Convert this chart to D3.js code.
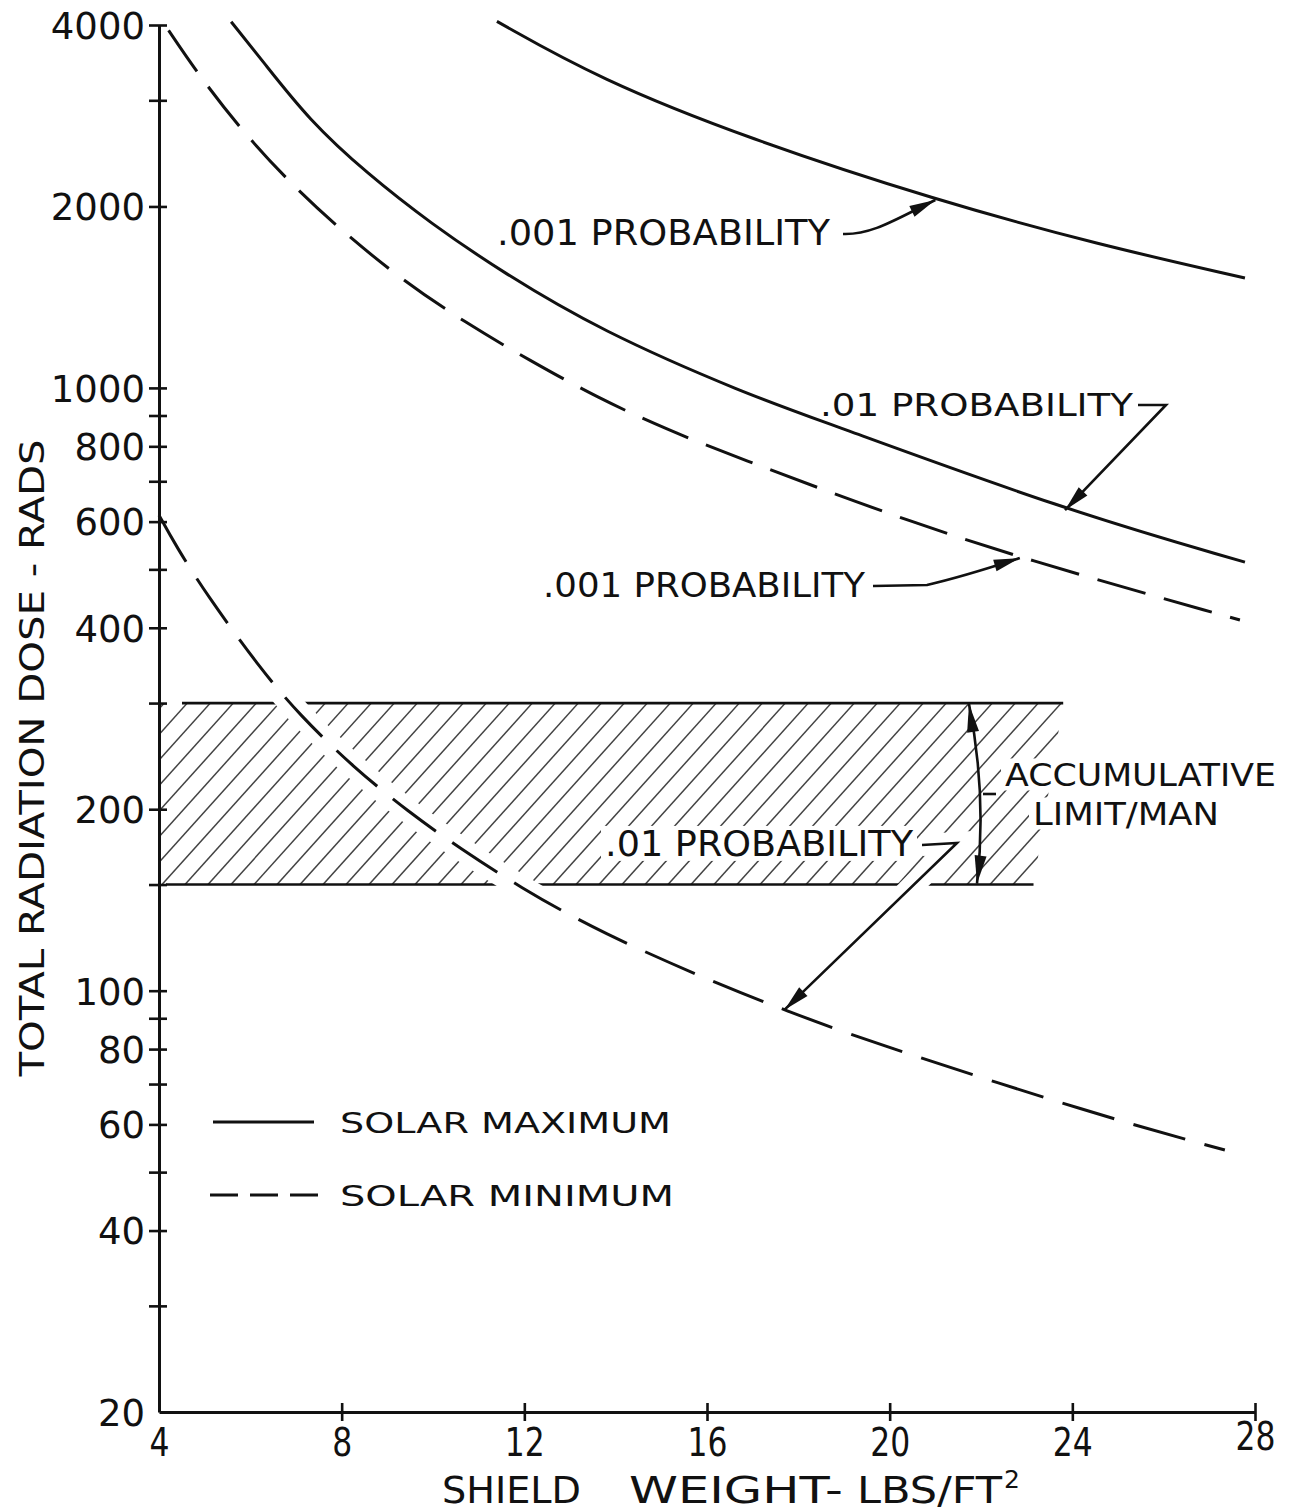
<!DOCTYPE html>
<html><head><meta charset="utf-8">
<script src="https://cdn.jsdelivr.net/npm/d3@7"></script>
<style>
html,body{margin:0;padding:0;background:#fff;}
svg{display:block;background:#fff;}
text{font-family:"DejaVu Sans","Liberation Sans",sans-serif;fill:#111;}
</style></head><body>
<svg id="chart" width="1297" height="1512"></svg>
<script>
// Total radiation dose (rads) versus shield weight (lb/ft^2)
const solarMax001 = [[11.4,4056],[13.64,3254],[16.89,2594],[21.0,2050],[24.6,1726],[27.78,1522]];
const solarMax01  = [[5.58,4050],[6.29,3470],[7.29,2780],[8.55,2270],[9.97,1870],[11.47,1565],[13.65,1245],[16.9,974],[18.47,884],[23.84,627],[27.78,514]];
const solarMin001 = [[4.21,3920],[4.81,3355],[5.75,2706],[6.89,2178],[8.09,1798],[9.34,1508],[10.72,1281],[12.1,1113],[13.61,962],[15.12,853],[16.58,771],[19.9,620],[22.85,522],[27.67,412]];
const solarMin01  = [[4.0,615],[4.37,547],[5.04,454],[6.21,343],[7.07,287],[8.25,235],[9.46,198],[10.6,172],[11.87,149],[13.64,125],[16.45,101],[17.7,93],[19.3,83.5],[24.6,62],[27.34,54.4]];

// accumulative limit per man (rads) and the shield-weight span of the band
const limitLow = 150;
const limitHigh = 300;
const limitSpanTop = [4, 23.8];
const limitSpanBottom = [4, 23.15];

const xTicks = [4, 8, 12, 16, 20, 24, 28];
const yLabeled = [20, 40, 60, 80, 100, 200, 400, 600, 800, 1000, 2000, 4000];
const yUnlabeled = [30, 50, 70, 90, 150, 300, 500, 700, 900, 3000];

const legendLabels = ["SOLAR MAXIMUM", "SOLAR MINIMUM"];

const svg = d3.select("#chart");
const x = d3.scaleLinear().domain([4, 28]).range([159, 1255]);
const y = d3.scaleLog().domain([20, 4000]).range([1412, 25]);

const ink = "#111";

// ---------- limit band (hatched) ----------
const band = svg.append("g");
const bandPoly = [
  [x(limitSpanTop[0]), y(limitHigh)], [x(limitSpanTop[1]), y(limitHigh)],
  [x(limitSpanBottom[1]), y(limitLow)], [x(limitSpanBottom[0]), y(limitLow)]
];
svg.append("defs").append("clipPath").attr("id", "bandClip")
  .append("polygon").attr("points", bandPoly.map(p => p.join(",")).join(" "));

const yTop = y(limitHigh), yBot = y(limitLow), hH = yBot - yTop;
const hatchOffsets = d3.range(-250, 1150, 23);
band.append("g").attr("clip-path", "url(#bandClip)")
  .selectAll("line").data(hatchOffsets).join("line")
  .attr("x1", d => x(4) + d).attr("y1", yBot)
  .attr("x2", d => x(4) + d + hH * 0.9).attr("y2", yTop)
  .attr("stroke", "#222").attr("stroke-width", 1.5).attr("stroke-opacity", 0.85);

band.append("line").attr("x1", 182).attr("x2", x(limitSpanTop[1]))
  .attr("y1", yTop).attr("y2", yTop).attr("stroke", ink).attr("stroke-width", 2.6);
band.append("line").attr("x1", 166).attr("x2", x(limitSpanBottom[1]))
  .attr("y1", yBot).attr("y2", yBot).attr("stroke", ink).attr("stroke-width", 2.6);

// ---------- curves ----------
const line = d3.line().x(d => x(d[0])).y(d => y(d[1])).curve(d3.curveBasis);

// white clearance around the lower curve where it crosses the band
svg.append("path").attr("d", line(solarMin01)).attr("fill", "none")
  .attr("stroke", "#fff").attr("stroke-width", 24).attr("stroke-linecap", "round");

// leader for the lower .01 label also clears the band
const tip4 = solarMin01[11];
const lead4 = `M922,845 L957,843 L${x(tip4[0])},${y(tip4[1])}`;
svg.append("path").attr("d", lead4).attr("fill", "none")
  .attr("stroke", "#fff").attr("stroke-width", 22);

const curves = [
  {data: solarMax001, dash: null},
  {data: solarMax01, dash: null},
  {data: solarMin001, dash: "50,19"},
  {data: solarMin01, dash: "54,20"}
];
svg.append("g").selectAll("path").data(curves).join("path")
  .attr("d", d => line(d.data))
  .attr("fill", "none").attr("stroke", ink).attr("stroke-width", 3)
  .attr("stroke-dasharray", d => d.dash);

// ---------- axes ----------
const yAxis = d3.axisLeft(y)
  .tickValues(yLabeled.concat(yUnlabeled))
  .tickFormat(d => yLabeled.includes(d) ? String(d) : "")
  .tickSizeOuter(0).tickPadding(12);
const gy = svg.append("g").attr("transform", `translate(${x(4)},0)`).call(yAxis);
gy.select(".domain").attr("stroke", ink).attr("stroke-width", 3);
gy.selectAll(".tick line").attr("x1", -10).attr("x2", 8)
  .attr("stroke", ink).attr("stroke-width", 2.6)
  .filter(d => d === 20).remove();
gy.selectAll(".tick text").attr("x", -14).style("font-size", "37px")
  .attr("fill", ink).attr("dy", "0.36em");

const xAxis = d3.axisBottom(x).tickValues(xTicks).tickSizeOuter(0).tickFormat(d3.format("d"));
const gx = svg.append("g").attr("transform", `translate(0,${y(20)})`).call(xAxis);
gx.select(".domain").attr("stroke", ink).attr("stroke-width", 3);
gx.selectAll(".tick line").attr("y1", -9).attr("y2", 9)
  .attr("stroke", ink).attr("stroke-width", 2.6)
  .filter(d => d === 4).remove();
gx.selectAll(".tick text").attr("y", d => d === 28 ? 38 : 44).attr("dy", 0)
  .style("font-size", "39px").attr("fill", ink)
  .attr("textLength", d => String(d).length * 20).attr("lengthAdjust", "spacingAndGlyphs");

// axis titles
const xTitleParts = [
  {t: "SHIELD", x: 442, len: 139},
  {t: "WEIGHT-", x: 629, len: 214},
  {t: "LBS/FT", x: 857, len: 145}
];
svg.append("g").selectAll("text").data(xTitleParts).join("text")
  .attr("x", d => d.x).attr("y", 1503).style("font-size", "37px")
  .attr("textLength", d => d.len).attr("lengthAdjust", "spacingAndGlyphs")
  .text(d => d.t);
svg.append("text").attr("x", 1004).attr("y", 1488).style("font-size", "25px").text("2");

svg.append("text").attr("transform", "translate(44,758) rotate(-90)")
  .attr("text-anchor", "middle").style("font-size", "34px")
  .attr("textLength", 637).attr("lengthAdjust", "spacingAndGlyphs")
  .text("TOTAL RADIATION DOSE - RADS");

// ---------- annotations ----------
function arrowHead(g, from, tip, len = 26, half = 6) {
  const dx = tip[0] - from[0], dy = tip[1] - from[1];
  const d = Math.hypot(dx, dy), ux = dx / d, uy = dy / d;
  const bx = tip[0] - ux * len, by = tip[1] - uy * len;
  g.append("polygon").attr("fill", ink)
    .attr("points", [[tip[0], tip[1]], [bx - uy * half, by + ux * half], [bx + uy * half, by - ux * half]]
      .map(p => p.join(",")).join(" "));
}

const notes = svg.append("g");
function label(txt, x0, base, len, size = 34, box = false) {
  if (box) {
    notes.append("rect").attr("x", x0 - 4).attr("y", base - size * 0.86)
      .attr("width", len + 8).attr("height", size * 1.0).attr("fill", "#fff");
  }
  notes.append("text").attr("x", x0).attr("y", base).style("font-size", size + "px")
    .attr("textLength", len).attr("lengthAdjust", "spacingAndGlyphs").text(txt);
}

// solar maximum, .001
const tip1 = solarMax001[3];
const t1 = [x(tip1[0]), y(tip1[1])];
label(".001 PROBABILITY", 497, 245, 333, 35);
notes.append("path").attr("d", `M843,234 C872,235 896,219 ${t1[0]},${t1[1]}`)
  .attr("fill", "none").attr("stroke", ink).attr("stroke-width", 2.6);
arrowHead(notes, [896, 219], t1);

// solar maximum, .01
const tip2 = solarMax01[9];
const t2 = [x(tip2[0]), y(tip2[1])];
label(".01 PROBABILITY", 820, 416, 313, 32);
notes.append("path").attr("d", `M1138,405 L1166,405 L${t2[0]},${t2[1]}`)
  .attr("fill", "none").attr("stroke", ink).attr("stroke-width", 2.6);
arrowHead(notes, [1166, 405], t2);

// solar minimum, .001
const tip3 = solarMin001[12];
const t3 = [x(tip3[0]), y(tip3[1])];
label(".001 PROBABILITY", 543, 597, 322);
notes.append("path").attr("d", `M873,586 L927,585 Q962,577 ${t3[0]},${t3[1]}`)
  .attr("fill", "none").attr("stroke", ink).attr("stroke-width", 2.6);
arrowHead(notes, [962, 575], t3);

// solar minimum, .01
const t4 = [x(tip4[0]), y(tip4[1])];
label(".01 PROBABILITY", 605, 856, 308, 35, true);
notes.append("path").attr("d", lead4)
  .attr("fill", "none").attr("stroke", ink).attr("stroke-width", 2.6);
arrowHead(notes, [957, 843], t4);

// accumulative limit span
label("ACCUMULATIVE", 1005, 786, 271, 32, true);
label("LIMIT/MAN", 1033, 825, 186, 32, true);
const aTop = [969, y(limitHigh) + 1], aBot = [977, y(limitLow) - 1];
notes.append("path").attr("d", `M${aTop[0]},${aTop[1]} Q987,795 ${aBot[0]},${aBot[1]}`)
  .attr("fill", "none").attr("stroke", ink).attr("stroke-width", 2.6);
arrowHead(notes, [975, 745], aTop, 28, 6);
arrowHead(notes, [982, 845], aBot, 28, 6);
notes.append("line").attr("x1", 983).attr("x2", 996).attr("y1", 794).attr("y2", 794)
  .attr("stroke", ink).attr("stroke-width", 2.6);

// ---------- legend ----------
const legend = svg.append("g");
const legendRows = [
  {label: legendLabels[0], dash: null, y: 1122, x1: 213, x2: 314, len: 331},
  {label: legendLabels[1], dash: "28,12", y: 1195, x1: 210, x2: 320, len: 334}
];
legend.selectAll("line").data(legendRows).join("line")
  .attr("x1", d => d.x1).attr("x2", d => d.x2).attr("y1", d => d.y).attr("y2", d => d.y)
  .attr("stroke", ink).attr("stroke-width", 3).attr("stroke-dasharray", d => d.dash);
legend.selectAll("text").data(legendRows).join("text")
  .attr("x", 340).attr("y", d => d.y + 11).style("font-size", "29px")
  .attr("textLength", d => d.len).attr("lengthAdjust", "spacingAndGlyphs")
  .text(d => d.label);
</script>
</body></html>
